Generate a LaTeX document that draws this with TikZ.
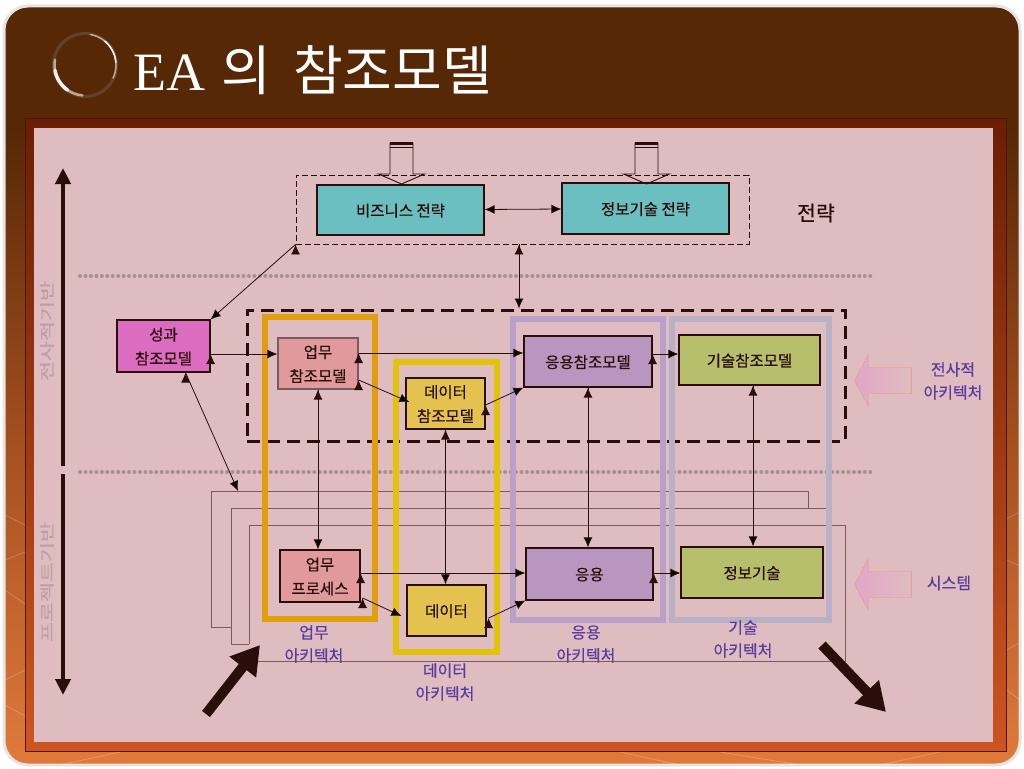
\documentclass[tikz,border=0pt]{standalone}
\usepackage{fontspec}
\usepackage{xcolor}
\setmainfont{Noto Sans CJK KR}
\newfontfamily\latinserif{Liberation Serif}
\newfontfamily\boxfont[RawFeature={embolden=0.4}]{Noto Sans CJK KR}
\usetikzlibrary{arrows.meta}
\definecolor{bgtop}{HTML}{562806}
\definecolor{bgmid}{HTML}{A5501F}
\definecolor{bgend}{HTML}{E07A3A}
\definecolor{rimtop}{HTML}{6B1E05}
\definecolor{rimend}{HTML}{CC5520}
\definecolor{panel}{HTML}{DFBCBF}
\definecolor{ink}{HTML}{2A0E0A}
\definecolor{teal}{HTML}{6CBFC0}
\definecolor{perfpink}{HTML}{DC6CC0}
\definecolor{bizrose}{HTML}{E09A9C}
\definecolor{datagold}{HTML}{E3C24F}
\definecolor{appmauve}{HTML}{B896C0}
\definecolor{techolive}{HTML}{B8BF6C}
\definecolor{labelblue}{HTML}{5A3CA0}
\definecolor{sidegrey}{HTML}{BDA0A5}
\definecolor{dotgrey}{HTML}{A98F94}
\definecolor{framegrey}{HTML}{7A5A60}
\definecolor{blockpink}{HTML}{E2A6C8}
\definecolor{blockedge}{HTML}{E8A8A0}
\pgfdeclareverticalshading{bgfall}{100bp}{color(0bp)=(bgend); color(25bp)=(bgend); color(46bp)=(bgmid); color(67bp)=(bgtop); color(100bp)=(bgtop)}
\tikzset{
  box/.style={shape=rectangle,draw=ink,line width=1.2pt,inner sep=0pt,align=center,text depth=0pt,font=\boxfont\fontsize{15.5}{24}\selectfont,text=ink},
  archframe/.style={shape=rectangle,line width=6pt,inner sep=0pt},
  archlabel/.style={align=center,inner sep=0pt,text=labelblue,font=\boxfont\fontsize{16}{23}\selectfont},
  link/.style={-{Latex[length=10pt,width=9pt]},draw=ink,line width=0.8pt},
  bothlink/.style={{Latex[length=10pt,width=9pt]}-{Latex[length=10pt,width=9pt]},draw=ink,line width=0.8pt},
  bigarrow/.style={draw=ink,line width=10pt,-{Triangle[length=28pt,width=32pt]}},
  axisarrow/.style={draw=ink,line width=4.5pt,-{Triangle[length=16pt,width=15pt]}},
  dotline/.style={draw=dotgrey,line width=4pt,line cap=round,dash pattern=on 0pt off 5.45pt},
  sidelabel/.style={inner sep=0pt,text=sidegrey,rotate=90,font=\boxfont\fontsize{15}{18}\selectfont}
}
\begin{document}
\begin{tikzpicture}[x=1pt,y=-1pt]
  \useasboundingbox (0,0) rectangle (1024,768);
  \fill[white] (0,0) rectangle (1024,768);
  \shadedraw[draw=black!10,line width=3pt,shading=bgfall,rounded corners=24pt] (4,6) rectangle (1020,765);
  \foreach \lx/\ly/\mx/\my in {5/515/25/525,5/560/25/552,5/590/25/604,5/680/25/670,5/705/25/716,1000/522/1020/512,1007/560/1020/566,1007/650/1020/642,1007/690/1020/700,60/765/120/752,620/752/680/765,720/752/800/765,880/765/940/752} {
    \draw[white,opacity=0.22,line width=0.8pt] (\lx,\ly) -- (\mx,\my);
  }
  \draw[draw=rimtop!70!black,line width=0.8pt,top color=rimtop,bottom color=rimend] (25,118) rectangle (1006,751);
  \fill[panel] (34,128) rectangle (993,742);

  \draw[line width=3pt,draw=bgtop!70!gray] (85,65) circle (31.5);
  \draw[line width=2.5pt,draw=white!60!bgtop,line cap=round] (85,65) ++(190:30.5) arc (190:95:30.5);
  \draw[line width=3.5pt,draw=white!90!gray,line cap=round] (85,65) ++(170:30.5) arc (170:125:30.5);
  \draw[line width=1.5pt,draw=white!60!bgtop,line cap=round] (85,65) ++(-80:31) arc (-80:25:31);
  \draw[line width=1.5pt,draw=white!90!gray,line cap=round] (85,65) ++(-50:31) arc (-50:-5:31);
  \node[anchor=west,inner sep=0pt,text=white,font=\fontsize{54}{60}\selectfont] (title) at (133,70) {{\latinserif EA}\hspace{4pt} 의\hspace{10pt} 참조모델};

  \coordinate (dotaw) at (80,276);
  \coordinate (dotae) at (873,276);
  \coordinate (dotbw) at (80,472);
  \coordinate (dotbe) at (875,472);
  \path[dotline] (dotaw) -- (dotae);
  \path[dotline] (dotbw) -- (dotbe);

  \draw[framegrey,line width=0.8pt] (231,627) -- (211,627) -- (211,491) -- (808,491) -- (808,508);
  \draw[framegrey,line width=0.8pt] (249,644) -- (231,644) -- (231,508) -- (826,508);
  \draw[framegrey,line width=0.8pt] (254,661) -- (845,661) -- (845,525) -- (249,525) -- (249,644);
  \coordinate (packtop) at (238,491);

  \node[draw=ink,dash pattern=on 6pt off 3pt,line width=0.9pt,minimum width=453pt,minimum height=69pt] (stratbox) at (522.5,209.5) {};
  \node[draw=ink,line width=3pt,dash pattern=on 13pt off 7pt,minimum width=598pt,minimum height=131pt] (entbox) at (546,375.5) {};

  \node[archframe,draw={rgb,255:red,226;green,157;blue,10},minimum width=110pt,minimum height=302pt] (bizframe) at (320,468) {};
  \node[archframe,draw={rgb,255:red,227;green,195;blue,7},minimum width=101pt,minimum height=290pt] (dataframe) at (446.5,507) {};
  \node[archframe,draw={rgb,255:red,184;green,160;blue,200},minimum width=150pt,minimum height=301pt] (appframe) at (588,469.5) {};
  \node[archframe,draw={rgb,255:red,184;green,176;blue,196},minimum width=157pt,minimum height=301pt] (techframe) at (750.5,469.5) {};

  \node[box,fill=teal,minimum width=167pt,minimum height=50pt] (biz) at (400.5,210) {비즈니스 전략};
  \node[box,fill=teal,minimum width=167pt,minimum height=51pt] (info) at (645.5,208.5) {정보기술 전략};
  \node[box,fill=perfpink,minimum width=93pt,minimum height=52pt] (perf) at (163.5,346) {성과\\참조모델};
  \node[box,fill=bizrose,draw=framegrey,minimum width=80pt,minimum height=51pt] (bizref) at (318,363.5) {업무\\참조모델};
  \node[box,fill=datagold,minimum width=79pt,minimum height=51pt] (dataref) at (445.5,403.5) {데이터\\참조모델};
  \node[box,fill=appmauve,minimum width=128pt,minimum height=51pt] (appref) at (588,361.5) {응용참조모델};
  \node[box,fill=techolive,minimum width=141pt,minimum height=50pt] (techref) at (749.5,360) {기술참조모델};
  \node[box,fill=bizrose,minimum width=80pt,minimum height=52pt] (process) at (320,576) {업무\\프로세스};
  \node[box,fill=datagold,minimum width=79pt,minimum height=51pt] (data) at (446.5,610.5) {데이터};
  \node[box,fill=appmauve,minimum width=127pt,minimum height=52pt] (app) at (589.5,574) {응용};
  \node[box,fill=techolive,minimum width=142pt,minimum height=51pt] (tech) at (752,572.5) {정보기술};

  \path [bothlink] (biz) edge (info);
  \path [link] (stratbox.south west) edge (perf.north east);
  \path [link] ([xshift=-3.5pt]stratbox.south) edge ([xshift=-27pt]entbox.north);
  \path [link] ([yshift=-8pt]perf.east) edge ([yshift=9.5pt]bizref.west);
  \path [link] ([yshift=10.5pt]bizref.east) edge ([yshift=8.5pt]appref.west);
  \path [link] ([yshift=-16.5pt]bizref.east) edge ([xshift=4pt,yshift=1.5pt]dataref.west);
  \path [link] ([yshift=-1.5pt]dataref.east) edge (appref.south west);
  \path [link] ([yshift=7.5pt]appref.east) edge ([yshift=6pt]techref.west);
  \path [link] (bizref.south) edge (process.north -| bizref.south);
  \path [link] (dataref.south) edge (data.north -| dataref.south);
  \path [link] (appref.south) edge (app.north -| appref.south);
  \path [link] ([xshift=3.5pt]techref.south) edge ([xshift=1pt]tech.north);
  \path [link] ([xshift=2pt,yshift=-22pt]process.east) edge ([xshift=-5pt,yshift=-5.5pt]data.west);
  \path [link] ([yshift=3pt]process.east) edge ([yshift=1pt]app.west);
  \path [link] ([xshift=2pt,yshift=-7.5pt]data.east) edge (app.south west);
  \path [link] ([yshift=1pt]app.east) edge ([yshift=-0.5pt]tech.west);
  \path [link] ([xshift=22pt]perf.south) edge (packtop);

  \foreach \ax in {401.5,646.5} {
    \draw[ink,line width=0.9pt] (\ax-11.5,143) -- (\ax-11.5,174) -- (\ax-23,174) -- (\ax,184) -- (\ax+23,174) -- (\ax+11.5,174) -- (\ax+11.5,143) -- cycle;
    \fill[ink] (\ax-11.5,142) rectangle (\ax+11.5,145);
    \fill[ink] (\ax-11.5,147) rectangle (\ax+11.5,148);
  }

  \foreach \ay in {380.5,584.5} {
    \filldraw[draw=blockedge,line width=0.8pt,left color=blockpink,right color=panel]
      (854.5,\ay) -- (868.5,\ay-25.5) -- (868.5,\ay-13) -- (911,\ay-13) -- (911,\ay+13) -- (868.5,\ay+13) -- (868.5,\ay+25.5) -- cycle;
  }

  \coordinate (axisup) at (63,168);
  \coordinate (axisdown) at (63,695);
  \coordinate (axismida) at (63,466);
  \coordinate (axismidb) at (63,474);
  \path[axisarrow] (axismida) -- (axisup);
  \path[axisarrow] (axismidb) -- (axisdown);
  \node[sidelabel] (sidea) at (47,331) {\scalebox{1.45}[1]{전사적기반}};
  \node[sidelabel] (sideb) at (47,582) {\scalebox{1.45}[1]{프로젝트기반}};

  \coordinate (inw) at (206,714);
  \coordinate (ine) at (260,645);
  \coordinate (outw) at (822,645);
  \coordinate (oute) at (886,712);
  \path[bigarrow] (inw) -- (ine);
  \path[bigarrow] (outw) -- (oute);

  \node[inner sep=0pt,text=ink,font=\boxfont\fontsize{20.5}{22}\selectfont] (strat) at (816,213) {전략};
  \node[archlabel] (entlabel) at (953,381) {전사적\\아키텍처};
  \node[archlabel] (syslabel) at (949,583) {시스템};
  \node[archlabel] (bizlabel) at (314,644) {업무\\아키텍처};
  \node[archlabel] (datalabel) at (445,682) {데이터\\아키텍처};
  \node[archlabel] (applabel) at (586,644) {응용\\아키텍처};
  \node[archlabel] (techlabel) at (743,639) {기술\\아키텍처};
\end{tikzpicture}
\end{document}
